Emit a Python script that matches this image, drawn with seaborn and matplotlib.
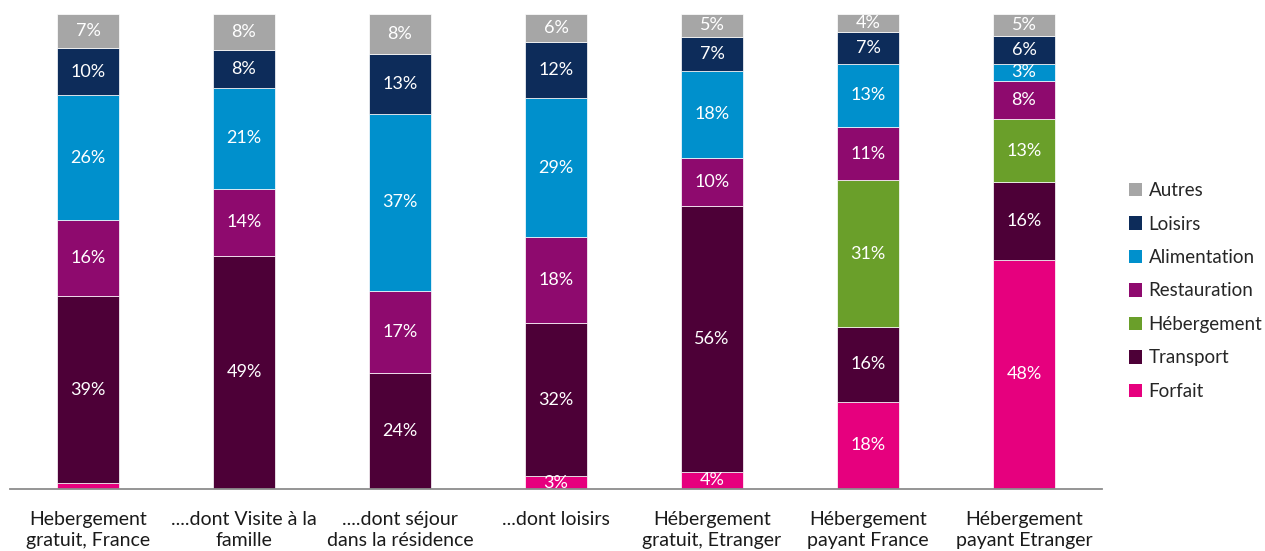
import matplotlib
matplotlib.use("Agg")
import matplotlib.pyplot as plt
import pandas as pd
import seaborn as sns
from matplotlib.patches import Patch

# Data (shares of spending, %)
categories = [
    "Hebergement\ngratuit, France",
    "....dont Visite à la\nfamille",
    "....dont séjour\ndans la résidence",
    "...dont loisirs",
    "Hébergement\ngratuit, Etranger",
    "Hébergement\npayant France",
    "Hébergement\npayant Etranger",
]
series = ["Forfait", "Transport", "Hébergement", "Restauration", "Alimentation", "Loisirs", "Autres"]

forfait      = [1.2, 0.0, 0.0, 2.7, 3.6, 18.4, 48.3]
transport    = [39.4, 49.1, 24.4, 32.2, 56.0, 15.7, 16.4]
hebergement  = [0.0, 0.0, 0.0, 0.0, 0.0, 30.9, 13.1]
restauration = [16.0, 14.1, 17.3, 18.1, 10.1, 11.2, 8.2]
alimentation = [26.3, 21.3, 37.3, 29.3, 18.3, 13.3, 3.4]
loisirs      = [9.9, 8.0, 12.6, 11.8, 7.2, 6.7, 5.9]
autres       = [7.2, 7.6, 8.4, 5.9, 4.8, 3.8, 4.7]

colors = ["#E6007E", "#4D0037", "#6A9F2A", "#8E0A6E", "#0090CC", "#0D2C5A", "#A6A6A6"]

df = pd.DataFrame({
    "categorie": categories,
    "Forfait": forfait,
    "Transport": transport,
    "Hébergement": hebergement,
    "Restauration": restauration,
    "Alimentation": alimentation,
    "Loisirs": loisirs,
    "Autres": autres,
})

sns.set_style("white")
plt.rcParams["font.family"] = ["Lato", "DejaVu Sans"]

fig = plt.figure(figsize=(12.65, 5.51), dpi=100)
ax = fig.add_axes([10 / 1265, 62 / 551, 1092 / 1265, 475 / 551])

bottom = pd.Series([0.0] * len(df))
for name, col in zip(series, colors):
    sns.barplot(data=df, x="categorie", y=name, color=col, width=0.4, saturation=1,
                bottom=bottom.values, edgecolor="white", linewidth=0.5, ax=ax)
    for i, v in enumerate(df[name]):
        if v >= 2:
            ax.text(i, bottom[i] + v / 2, f"{v:.0f}%", ha="center", va="center",
                    color="white", fontsize=13)
    bottom = bottom + df[name]

ax.set_xlim(-0.5, 6.5)
ax.set_ylim(0, 100)
ax.set_xlabel("")
ax.set_ylabel("")
ax.set_yticks([])
for s in ["top", "right", "left"]:
    ax.spines[s].set_visible(False)
ax.spines["bottom"].set_color("#8c8c8c")
ax.spines["bottom"].set_linewidth(1.3)

ax.set_xticks(range(len(categories)))
ax.set_xticklabels(categories, fontsize=14, color="#1a1a1a", linespacing=1.25)
ax.tick_params(axis="x", which="major", length=0, pad=16)
ax.set_xticks([i - 0.5 for i in range(len(categories) + 1)], minor=True)
ax.tick_params(axis="x", which="minor", length=6, width=1.2, color="#8c8c8c", direction="out")

handles = [Patch(facecolor=c, edgecolor="none") for c in colors]
fig.legend(handles[::-1], series[::-1], loc="center left", bbox_to_anchor=(1112 / 1265, 1 - 291 / 551),
           frameon=False, fontsize=13.5, handlelength=0.7, handleheight=0.7,
           handletextpad=0.35, labelspacing=0.88)

fig.savefig("out.png", dpi=100)
